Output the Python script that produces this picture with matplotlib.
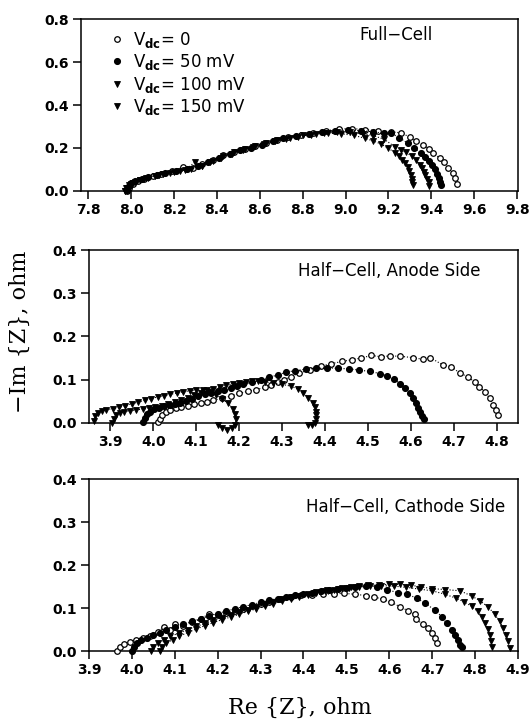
import matplotlib
matplotlib.use('Agg')
import matplotlib.pyplot as plt
from matplotlib.lines import Line2D
from matplotlib.ticker import FormatStrFormatter, MultipleLocator

# ── data: (Re Z, -Im Z) in ohm ─────────────────────────────────
# Full cell
full_0mV = [(7.98, 0.0), (7.99, 0.015), (8.01, 0.03), (8.03, 0.045), (8.06, 0.055), (8.10, 0.068),
            (8.14, 0.08), (8.19, 0.09), (8.24, 0.11), (8.29, 0.105), (8.33, 0.125), (8.38, 0.145),
            (8.43, 0.165), (8.48, 0.18), (8.53, 0.195), (8.58, 0.21), (8.63, 0.225), (8.68, 0.235),
            (8.73, 0.25), (8.79, 0.26), (8.85, 0.27), (8.91, 0.28), (8.97, 0.288), (9.03, 0.29),
            (9.09, 0.285), (9.15, 0.28), (9.21, 0.275), (9.26, 0.27), (9.30, 0.25), (9.33, 0.232),
            (9.36, 0.215), (9.39, 0.195), (9.41, 0.175), (9.44, 0.152), (9.46, 0.132), (9.48, 0.108),
            (9.50, 0.083), (9.51, 0.058), (9.52, 0.033)]
full_50mV = [(7.98, 0.005), (7.99, 0.02), (8.00, 0.035), (8.02, 0.045), (8.05, 0.055), (8.08, 0.063),
             (8.12, 0.075), (8.16, 0.085), (8.21, 0.09), (8.26, 0.1), (8.31, 0.115), (8.36, 0.135),
             (8.41, 0.155), (8.46, 0.17), (8.51, 0.19), (8.56, 0.2), (8.61, 0.215), (8.66, 0.23),
             (8.71, 0.245), (8.77, 0.255), (8.83, 0.265), (8.89, 0.275), (8.95, 0.28), (9.01, 0.282),
             (9.07, 0.28), (9.13, 0.275), (9.18, 0.268), (9.21, 0.27), (9.25, 0.248), (9.29, 0.222),
             (9.32, 0.2), (9.35, 0.178), (9.37, 0.158), (9.39, 0.138), (9.405, 0.118), (9.415, 0.1),
             (9.425, 0.078), (9.435, 0.058), (9.44, 0.042), (9.446, 0.027)]
full_100mV = [(7.97, 0.0), (7.98, 0.015), (8.00, 0.03), (8.02, 0.042), (8.04, 0.05), (8.07, 0.058),
              (8.11, 0.07), (8.15, 0.08), (8.20, 0.088), (8.25, 0.095), (8.30, 0.135), (8.33, 0.115),
              (8.37, 0.135), (8.42, 0.155), (8.47, 0.172), (8.52, 0.188), (8.57, 0.202), (8.62, 0.216),
              (8.67, 0.23), (8.72, 0.243), (8.78, 0.253), (8.84, 0.262), (8.90, 0.27), (8.96, 0.274),
              (9.02, 0.272), (9.08, 0.266), (9.13, 0.257), (9.18, 0.24), (9.23, 0.205), (9.26, 0.19),
              (9.28, 0.18), (9.31, 0.16), (9.33, 0.142), (9.345, 0.122), (9.356, 0.105), (9.365, 0.088),
              (9.372, 0.072), (9.38, 0.057), (9.387, 0.041), (9.391, 0.02)]
full_150mV = [(7.97, 0.0), (7.975, 0.012), (7.99, 0.025), (8.01, 0.038), (8.04, 0.048), (8.08, 0.06),
              (8.13, 0.072), (8.18, 0.082), (8.23, 0.09), (8.28, 0.1), (8.33, 0.115), (8.38, 0.14),
              (8.43, 0.16), (8.48, 0.18), (8.53, 0.195), (8.58, 0.21), (8.63, 0.222), (8.68, 0.235),
              (8.74, 0.248), (8.80, 0.258), (8.86, 0.265), (8.92, 0.268), (8.98, 0.266), (9.04, 0.258),
              (9.09, 0.245), (9.13, 0.232), (9.165, 0.218), (9.2, 0.198), (9.23, 0.178), (9.25, 0.16),
              (9.265, 0.145), (9.278, 0.13), (9.29, 0.11), (9.298, 0.092), (9.305, 0.074),
              (9.309, 0.057), (9.311, 0.042), (9.313, 0.027)]

# Half cell, anode side
anode_0mV = [(4.012, 0.002), (4.016, 0.01), (4.021, 0.018), (4.03, 0.025), (4.04, 0.03), (4.052, 0.034),
             (4.065, 0.037), (4.08, 0.04), (4.095, 0.043), (4.11, 0.045), (4.125, 0.048), (4.14, 0.052),
             (4.16, 0.057), (4.18, 0.062), (4.2, 0.068), (4.22, 0.073), (4.24, 0.077), (4.26, 0.082),
             (4.275, 0.088), (4.29, 0.094), (4.305, 0.1), (4.32, 0.107), (4.34, 0.115), (4.365, 0.123),
             (4.39, 0.131), (4.415, 0.137), (4.44, 0.142), (4.462, 0.146), (4.485, 0.15), (4.508, 0.156),
             (4.53, 0.153), (4.552, 0.155), (4.575, 0.154), (4.605, 0.151), (4.628, 0.147),
             (4.645, 0.151), (4.675, 0.134), (4.695, 0.13), (4.714, 0.115), (4.733, 0.107),
             (4.749, 0.094), (4.76, 0.084), (4.772, 0.072), (4.784, 0.057), (4.791, 0.042),
             (4.798, 0.03), (4.803, 0.017)]
anode_50mV = [(3.977, 0.002), (3.981, 0.012), (3.986, 0.02), (3.993, 0.026), (4.002, 0.031), (4.013, 0.035),
              (4.025, 0.038), (4.038, 0.041), (4.05, 0.044), (4.063, 0.047), (4.076, 0.051), (4.09, 0.056),
              (4.105, 0.062), (4.12, 0.066), (4.135, 0.07), (4.15, 0.073), (4.165, 0.077), (4.18, 0.081),
              (4.195, 0.085), (4.21, 0.089), (4.23, 0.094), (4.25, 0.1), (4.27, 0.105), (4.29, 0.111),
              (4.31, 0.117), (4.33, 0.121), (4.355, 0.124), (4.38, 0.126), (4.405, 0.127), (4.43, 0.126),
              (4.455, 0.125), (4.48, 0.122), (4.505, 0.119), (4.528, 0.114), (4.545, 0.109),
              (4.56, 0.102), (4.575, 0.091), (4.587, 0.08), (4.598, 0.069), (4.606, 0.057),
              (4.613, 0.045), (4.618, 0.034), (4.622, 0.024), (4.626, 0.016), (4.63, 0.01)]
anode_100mV = [(3.904, 0.0), (3.908, 0.01), (3.914, 0.018), (3.922, 0.023), (3.932, 0.026), (3.945, 0.028),
               (3.96, 0.03), (3.975, 0.032), (3.99, 0.034), (4.005, 0.036), (4.02, 0.039), (4.035, 0.043),
               (4.05, 0.048), (4.065, 0.053), (4.08, 0.058), (4.095, 0.064), (4.11, 0.07), (4.125, 0.075),
               (4.14, 0.079), (4.155, 0.083), (4.17, 0.087), (4.185, 0.09), (4.2, 0.092), (4.215, 0.094),
               (4.23, 0.096), (4.245, 0.096), (4.26, 0.095), (4.28, 0.092), (4.3, 0.089), (4.32, 0.085),
               (4.338, 0.078), (4.35, 0.07), (4.361, 0.057), (4.372, 0.046), (4.377, 0.036),
               (4.379, 0.026), (4.38, 0.017), (4.379, 0.008), (4.377, 0.0), (4.37, -0.005),
               (4.36, -0.006)]
anode_150mV = [(3.861, 0.005), (3.865, 0.015), (3.872, 0.022), (3.88, 0.027), (3.89, 0.03), (3.905, 0.033),
               (3.92, 0.036), (3.935, 0.04), (3.95, 0.044), (3.965, 0.048), (3.98, 0.052), (3.995, 0.056),
               (4.01, 0.06), (4.025, 0.063), (4.04, 0.066), (4.055, 0.069), (4.07, 0.072), (4.085, 0.074),
               (4.1, 0.076), (4.115, 0.075), (4.13, 0.072), (4.145, 0.065), (4.16, 0.055), (4.175, 0.045),
               (4.185, 0.032), (4.19, 0.02), (4.193, 0.008), (4.19, -0.004), (4.183, -0.012),
               (4.172, -0.017), (4.16, -0.013), (4.15, -0.006)]

# Half cell, cathode side
cathode_0mV = [(3.965, 0.0), (3.972, 0.01), (3.982, 0.017), (3.995, 0.022), (4.01, 0.026), (4.025, 0.03),
               (4.042, 0.036), (4.06, 0.045), (4.075, 0.055), (4.09, 0.05), (4.1, 0.063), (4.12, 0.058),
               (4.14, 0.067), (4.16, 0.074), (4.18, 0.087), (4.2, 0.083), (4.22, 0.089), (4.24, 0.093),
               (4.26, 0.098), (4.28, 0.104), (4.3, 0.109), (4.32, 0.115), (4.345, 0.12), (4.37, 0.125),
               (4.395, 0.13), (4.42, 0.131), (4.445, 0.132), (4.47, 0.133), (4.495, 0.134), (4.52, 0.132),
               (4.545, 0.129), (4.565, 0.126), (4.585, 0.12), (4.605, 0.113), (4.625, 0.103),
               (4.643, 0.094), (4.66, 0.085), (4.662, 0.074), (4.679, 0.062), (4.691, 0.053),
               (4.7, 0.042), (4.707, 0.031), (4.711, 0.018)]
cathode_50mV = [(4.0, 0.0), (4.005, 0.01), (4.012, 0.018), (4.022, 0.025), (4.035, 0.031), (4.05, 0.037),
                (4.065, 0.043), (4.08, 0.049), (4.1, 0.056), (4.12, 0.063), (4.14, 0.069), (4.16, 0.075),
                (4.18, 0.081), (4.2, 0.087), (4.22, 0.093), (4.24, 0.098), (4.26, 0.103), (4.28, 0.108),
                (4.3, 0.113), (4.32, 0.118), (4.34, 0.122), (4.36, 0.126), (4.38, 0.13), (4.4, 0.133),
                (4.42, 0.136), (4.44, 0.139), (4.46, 0.142), (4.48, 0.145), (4.5, 0.147), (4.52, 0.149),
                (4.545, 0.151), (4.571, 0.15), (4.594, 0.142), (4.621, 0.136), (4.641, 0.132),
                (4.664, 0.123), (4.683, 0.111), (4.707, 0.095), (4.722, 0.08), (4.734, 0.064),
                (4.746, 0.049), (4.753, 0.037), (4.759, 0.026), (4.765, 0.015), (4.769, 0.009)]
cathode_100mV = [(4.045, 0.0), (4.05, 0.01), (4.06, 0.018), (4.075, 0.026), (4.09, 0.034), (4.11, 0.042),
                 (4.13, 0.05), (4.15, 0.057), (4.17, 0.064), (4.19, 0.071), (4.21, 0.077), (4.23, 0.084),
                 (4.25, 0.09), (4.27, 0.096), (4.29, 0.103), (4.31, 0.109), (4.33, 0.115), (4.35, 0.12),
                 (4.37, 0.125), (4.39, 0.129), (4.41, 0.133), (4.43, 0.137), (4.455, 0.141), (4.48, 0.144),
                 (4.505, 0.147), (4.53, 0.149), (4.555, 0.151), (4.58, 0.152), (4.61, 0.151),
                 (4.64, 0.148), (4.67, 0.144), (4.70, 0.14), (4.73, 0.132), (4.755, 0.123),
                 (4.775, 0.114), (4.792, 0.104), (4.806, 0.092), (4.816, 0.08), (4.824, 0.066),
                 (4.83, 0.052), (4.834, 0.038), (4.837, 0.024), (4.839, 0.01)]
cathode_150mV = [(4.065, 0.0), (4.07, 0.01), (4.08, 0.018), (4.095, 0.026), (4.11, 0.034), (4.13, 0.043),
                 (4.15, 0.051), (4.17, 0.059), (4.19, 0.066), (4.21, 0.073), (4.23, 0.079), (4.25, 0.085),
                 (4.27, 0.092), (4.29, 0.098), (4.31, 0.104), (4.33, 0.11), (4.35, 0.116), (4.37, 0.121),
                 (4.39, 0.126), (4.41, 0.131), (4.43, 0.135), (4.45, 0.139), (4.47, 0.143), (4.49, 0.146),
                 (4.51, 0.149), (4.53, 0.151), (4.55, 0.153), (4.575, 0.154), (4.6, 0.155), (4.625, 0.155),
                 (4.65, 0.153), (4.675, 0.149), (4.7, 0.145), (4.73, 0.143), (4.765, 0.14),
                 (4.792, 0.128), (4.811, 0.117), (4.831, 0.102), (4.846, 0.085), (4.857, 0.069),
                 (4.866, 0.053), (4.873, 0.038), (4.877, 0.023), (4.881, 0.008)]

bias_labels = ["0", "50 mV", "100 mV", "150 mV"]
panel_titles = ["Full\u2212Cell", "Half\u2212Cell, Anode Side", "Half\u2212Cell, Cathode Side"]

# ── marker styles per dc bias ─────────────────────────────
styles = [
    dict(marker='o', mfc='white', mec='black', ms=4.0, mew=0.9),
    dict(marker='o', mfc='black', mec='black', ms=4.2, mew=0.9),
    dict(marker='v', mfc='black', mec='black', ms=3.8, mew=0.6),
    dict(marker='v', mfc='black', mec='black', ms=4.6, mew=0.6),
]

tick_font = dict(family='DejaVu Sans', weight='bold', size=10)

fig = plt.figure(figsize=(5.29, 7.26), dpi=100)
ax_full = fig.add_axes([0.1522, 0.7373, 0.8265, 0.2361])
ax_an = fig.add_axes([0.1682, 0.4176, 0.8110, 0.2380])
ax_ca = fig.add_axes([0.1682, 0.1033, 0.8110, 0.2369])

panels = [
    (ax_full, [full_0mV, full_50mV, full_100mV, full_150mV], (7.764, 9.803), 0.8, 0.2, 0.2),
    (ax_an, [anode_0mV, anode_50mV, anode_100mV, anode_150mV], (3.85, 4.85), 0.4, 0.1, 0.1),
    (ax_ca, [cathode_0mV, cathode_50mV, cathode_100mV, cathode_150mV], (3.9, 4.9), 0.4, 0.1, 0.1),
]

for ax, series, xlim, ytop, xstep, ystep in panels:
    for pts, st in zip(series, styles):
        xs, ys = zip(*pts)
        ax.plot(xs, ys, ls=':', lw=0.8, color='black', clip_on=False, zorder=3, **st)
    ax.set_xlim(*xlim)
    ax.set_ylim(0, ytop)
    ax.xaxis.set_major_locator(MultipleLocator(xstep))
    ax.yaxis.set_major_locator(MultipleLocator(ystep))
    ax.xaxis.set_major_formatter(FormatStrFormatter('%.1f'))
    ax.yaxis.set_major_formatter(FormatStrFormatter('%.1f'))
    ax.tick_params(direction='out', length=5.5, width=1.1, pad=3, top=False, right=False)
    for lab in ax.get_xticklabels() + ax.get_yticklabels():
        lab.set_fontproperties(tick_font)
    for sp in ax.spines.values():
        sp.set_linewidth(1.1)

ax_full.text(0.806, 0.909, panel_titles[0], transform=ax_full.transAxes,
             ha='right', va='center', fontsize=12)
ax_an.text(0.913, 0.876, panel_titles[1], transform=ax_an.transAxes,
           ha='right', va='center', fontsize=12)
ax_ca.text(0.970, 0.838, panel_titles[2], transform=ax_ca.transAxes,
           ha='right', va='center', fontsize=12)

# legend: markers only
handles = [Line2D([], [], ls='none', color='black', **st) for st in styles]
labels = [r"V$_{\mathbf{dc}}$= " + b for b in bias_labels]
ax_full.legend(handles, labels, loc='upper left', bbox_to_anchor=(0.041, 1.008),
               frameon=False, fontsize=12, handlelength=0.8, handletextpad=0.6,
               labelspacing=0.15, borderpad=0.2)

fig.text(0.038, 1 - 332 / 726, "\u2212Im {Z}, ohm", rotation=90, family='DejaVu Serif',
         fontsize=16, ha='center', va='center')
fig.text(0.567, 1 - 708 / 726, "Re {Z}, ohm", family='DejaVu Serif',
         fontsize=16, ha='center', va='center')

fig.savefig('out.png', dpi=100)
plt.close(fig)
